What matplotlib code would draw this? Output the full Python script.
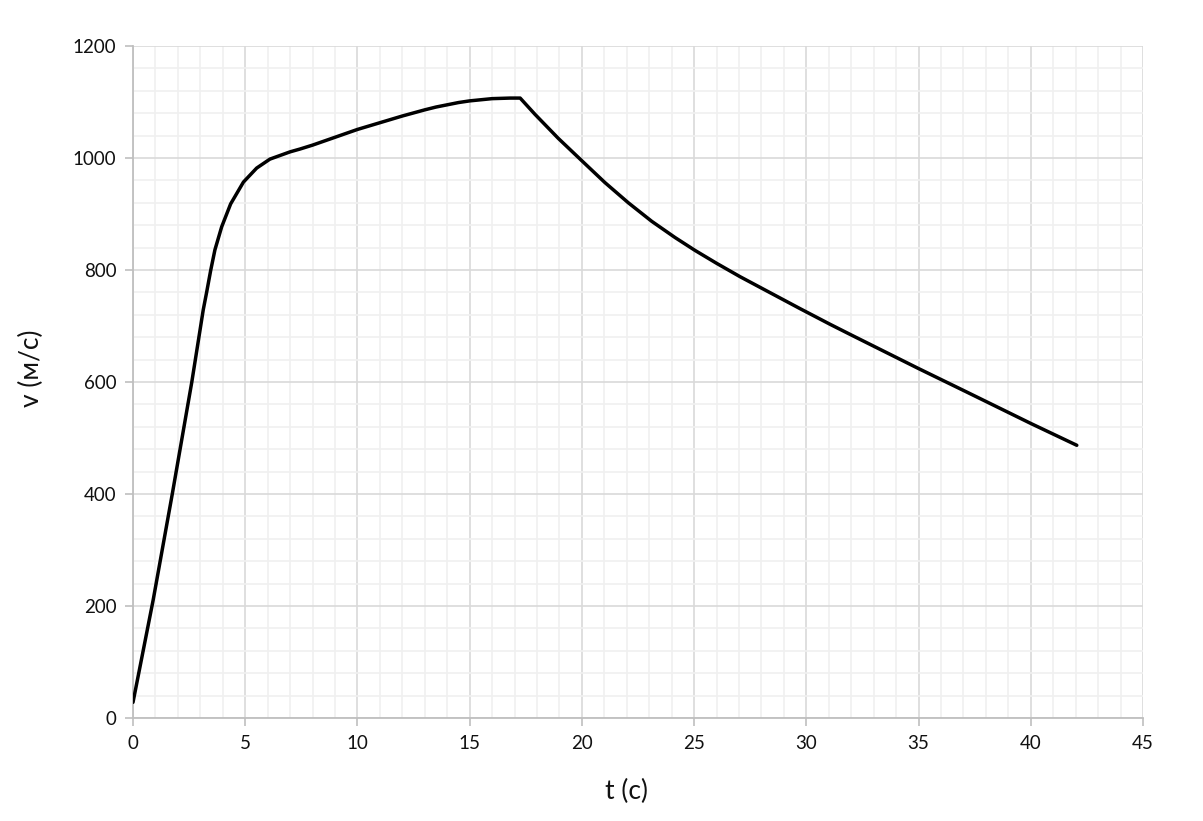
import matplotlib
matplotlib.use('Agg')
import matplotlib.pyplot as plt
from matplotlib.ticker import MultipleLocator

# velocity of the rocket
t_values = [0, 0.9, 1.75, 2.62, 3.13, 3.28, 3.46, 3.65, 3.95, 4.35, 4.92, 5.51,
            6.1, 7.0, 7.44, 8, 9, 10, 11, 12, 13, 13.5, 14, 14.5, 15, 15.5,
            16, 16.8, 17.25,
            17.91, 18.95, 20.0, 21.03, 22.07, 23.11, 24.15, 25.04, 26.0, 27.05,
            29.72, 31.06, 32.0, 35.0, 37.1, 40.0, 42.05]
v_values = [28, 211, 400, 600, 729, 760, 799, 836, 877, 918, 957, 982,
            998, 1011, 1016, 1023, 1037, 1051, 1063, 1075, 1086, 1091, 1095, 1099, 1102, 1104,
            1106, 1107, 1107,
            1078, 1035, 995, 956, 920, 887, 858, 835, 812, 788,
            731, 703, 684, 624, 583, 526, 487]

x_label = 't (c)'
y_label = 'v (м/с)'
fonts = ['Lato', 'DejaVu Sans']

plt.rcParams['font.family'] = fonts

fig = plt.figure(figsize=(12.03, 8.21), dpi=100)
ax = fig.add_axes([133 / 1203, 103 / 821, 1010 / 1203, 672 / 821])

ax.plot(t_values, v_values, color='black', linewidth=2.5, zorder=3,
        solid_joinstyle='round', solid_capstyle='round')

ax.set_xlim(0, 45)
ax.set_ylim(0, 1200)
ax.xaxis.set_major_locator(MultipleLocator(5))
ax.xaxis.set_minor_locator(MultipleLocator(1))
ax.yaxis.set_major_locator(MultipleLocator(200))
ax.yaxis.set_minor_locator(MultipleLocator(40))

ax.grid(which='minor', color='#f0f0f0', linewidth=1.2, zorder=0)
ax.grid(which='major', color='#d9d9d9', linewidth=1.2, zorder=1)
ax.set_axisbelow(True)

for side in ['top', 'right']:
    ax.spines[side].set_visible(False)
for side in ['left', 'bottom']:
    ax.spines[side].set_color('#bfbfbf')
    ax.spines[side].set_linewidth(1.3)

ax.tick_params(which='major', length=6, color='#bfbfbf', width=1.2,
               labelsize=13.5, labelcolor='#111111', pad=6)
ax.tick_params(which='minor', length=0)

ax.set_xlabel(x_label, fontsize=19, color='#111111')
ax.set_ylabel(y_label, fontsize=19, color='#111111')
ax.xaxis.set_label_coords(0.489, -0.09)
ax.yaxis.set_label_coords(-0.088, 0.52)

fig.savefig('out.png', dpi=100)
